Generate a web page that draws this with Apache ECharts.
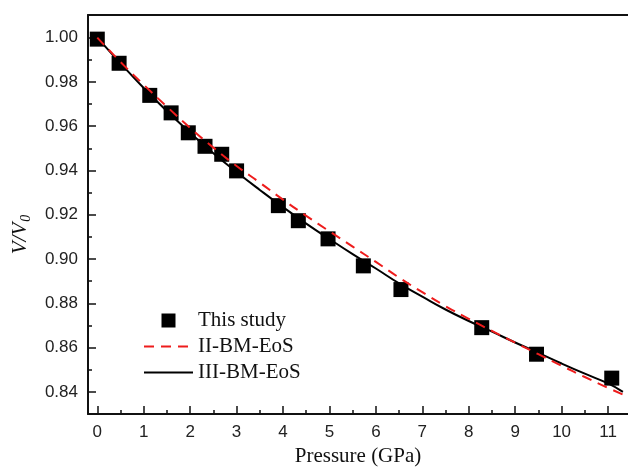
<!DOCTYPE html>
<html>
<head>
<meta charset="utf-8">
<script src="https://cdn.jsdelivr.net/npm/echarts@6/dist/echarts.min.js"></script>
<style>
html,body{margin:0;padding:0;background:#fff;}
#c{width:628px;height:472px;}
</style>
</head>
<body>
<div id="c"></div>
<script>
// Measured data (This study)
var studyP = [0, 0.47, 1.13, 1.59, 1.96, 2.32, 2.68, 3.00, 3.90, 4.33, 4.97, 5.73, 6.54, 8.28, 9.46, 11.08];
var studyV = [0.9993, 0.9884, 0.9739, 0.9660, 0.9570, 0.9509, 0.9473, 0.9398, 0.9241, 0.9173, 0.9091, 0.8969, 0.8862, 0.8690, 0.8570, 0.8462];

// III-BM-EoS fit (solid black)
var bm3P = [0, 0.5, 1, 1.5, 2, 2.5, 3, 3.5, 4, 4.5, 5, 5.5, 6, 6.5, 7, 7.5, 8, 8.5, 9, 9.5, 10, 10.5, 11, 11.32];
var bm3V = [1.0000, 0.9884, 0.9772, 0.9668, 0.9570, 0.9478, 0.9393, 0.9312, 0.9234, 0.9160, 0.9090, 0.9022, 0.8957, 0.8890, 0.8830, 0.8772, 0.8720, 0.8672, 0.8623, 0.8576, 0.8528, 0.8482, 0.8438, 0.8400];

// II-BM-EoS fit (dashed red)
var bm2P = [0, 0.5, 1, 1.5, 2, 2.5, 3, 3.5, 4, 4.5, 5, 5.5, 6, 6.5, 7, 7.5, 8, 8.5, 9, 9.5, 10, 10.5, 11, 11.43];
var bm2V = [1.0000, 0.9890, 0.9787, 0.9688, 0.9592, 0.9503, 0.9420, 0.9345, 0.9268, 0.9195, 0.9125, 0.9056, 0.8987, 0.8916, 0.8850, 0.8787, 0.8730, 0.8675, 0.8622, 0.8570, 0.8518, 0.8467, 0.8418, 0.8378];

// Tick labels
var xTicks = [0, 1, 2, 3, 4, 5, 6, 7, 8, 9, 10, 11];
var xMinor = [0.5, 1.5, 2.5, 3.5, 4.5, 5.5, 6.5, 7.5, 8.5, 9.5, 10.5, 11.5];
var yTicks = [0.84, 0.86, 0.88, 0.90, 0.92, 0.94, 0.96, 0.98, 1.00];
var yMinor = [0.83, 0.85, 0.87, 0.89, 0.91, 0.93, 0.95, 0.97, 0.99];

function pairs(a, b) { return a.map(function (v, i) { return [v, b[i]]; }); }

var XMIN = -0.2, XMAX = 11.43, YMIN = 0.83, YMAX = 1.0102;
var axisCol = '#111';
var sans = 'Liberation Sans, Arial, sans-serif';
var serif = 'Liberation Serif, Times New Roman, serif';

var chart = echarts.init(document.getElementById('c'), null, {renderer: 'canvas'});
chart.setOption({
  animation: false,
  backgroundColor: '#fff',
  grid: {left: 88, right: 0, top: 15, bottom: 56, containLabel: false},
  legend: {
    orient: 'vertical',
    left: 138, top: 305,
    itemWidth: 49, itemHeight: 14, itemGap: 5, itemTextGap: 5,
    symbolKeepAspect: true,
    textStyle: {fontFamily: serif, fontSize: 21, color: '#111'},
    data: [
      {name: 'This study', icon: 'path://M0,0H10V10H0Z', itemStyle: {color: '#000', opacity: 1}},
      {name: 'II-BM-EoS', itemStyle: {opacity: 0}},
      {name: 'III-BM-EoS', itemStyle: {opacity: 0}}
    ]
  },
  xAxis: [
    {
      type: 'value', min: XMIN, max: XMAX, position: 'bottom',
      name: 'Pressure (GPa)', nameLocation: 'middle', nameGap: 32,
      nameTextStyle: {fontFamily: serif, fontSize: 21, color: '#111'},
      axisLine: {show: true, onZero: false, lineStyle: {color: axisCol, width: 2}},
      axisTick: {show: true, inside: true, length: 8, customValues: xTicks, lineStyle: {color: axisCol, width: 1.5}},
      axisLabel: {show: true, customValues: xTicks, margin: 10, fontFamily: sans, fontSize: 17, color: '#222'},
      splitLine: {show: false}
    },
    {
      type: 'value', min: XMIN, max: XMAX, position: 'bottom',
      axisLine: {show: false, onZero: false},
      axisTick: {show: true, inside: true, length: 4, customValues: xMinor, lineStyle: {color: axisCol, width: 1.5}},
      axisLabel: {show: false, customValues: xMinor},
      splitLine: {show: false}
    },
    {
      type: 'value', min: XMIN, max: XMAX, position: 'top',
      axisLine: {show: true, onZero: false, lineStyle: {color: axisCol, width: 2}},
      axisTick: {show: false}, axisLabel: {show: false}, splitLine: {show: false}
    }
  ],
  yAxis: [
    {
      type: 'value', min: YMIN, max: YMAX, position: 'left',
      name: '{a|V/V}{b|0}', nameLocation: 'middle', nameGap: 55, nameRotate: 90,
      nameTextStyle: {
        fontFamily: serif, fontSize: 21, color: '#111', padding: [0, 40, 0, 0],
        rich: {
          a: {fontFamily: serif, fontStyle: 'italic', fontSize: 21, color: '#111'},
          b: {fontFamily: serif, fontStyle: 'italic', fontSize: 14, color: '#111', padding: [12, 0, 0, 1]}
        }
      },
      axisLine: {show: true, onZero: false, lineStyle: {color: axisCol, width: 2}},
      axisTick: {show: true, inside: true, length: 8, customValues: yTicks, lineStyle: {color: axisCol, width: 1.5}},
      axisLabel: {show: true, customValues: yTicks, margin: 10, fontFamily: sans, fontSize: 17, color: '#222',
        formatter: function (v) { return v.toFixed(2); }},
      splitLine: {show: false}
    },
    {
      type: 'value', min: YMIN, max: YMAX, position: 'left',
      axisLine: {show: false, onZero: false},
      axisTick: {show: true, inside: true, length: 4, customValues: yMinor, lineStyle: {color: axisCol, width: 1.5}},
      axisLabel: {show: false, customValues: yMinor},
      splitLine: {show: false}
    }
  ],
  series: [
    {
      name: 'This study', type: 'scatter', xAxisIndex: 0, yAxisIndex: 0,
      symbol: 'rect', symbolSize: 15,
      itemStyle: {color: '#000', opacity: 1},
      data: pairs(studyP, studyV), z: 2
    },
    {
      name: 'III-BM-EoS', type: 'line', xAxisIndex: 0, yAxisIndex: 0,
      symbol: 'none', showSymbol: false, smooth: true,
      lineStyle: {color: '#000', width: 2},
      itemStyle: {color: '#000'},
      data: pairs(bm3P, bm3V), z: 3
    },
    {
      name: 'II-BM-EoS', type: 'line', xAxisIndex: 0, yAxisIndex: 0,
      symbol: 'none', showSymbol: false, smooth: true,
      lineStyle: {color: '#ee1c1c', width: 2, type: [10, 7]},
      itemStyle: {color: '#ee1c1c'},
      data: pairs(bm2P, bm2V), z: 4
    }
  ]
});
</script>
</body>
</html>
